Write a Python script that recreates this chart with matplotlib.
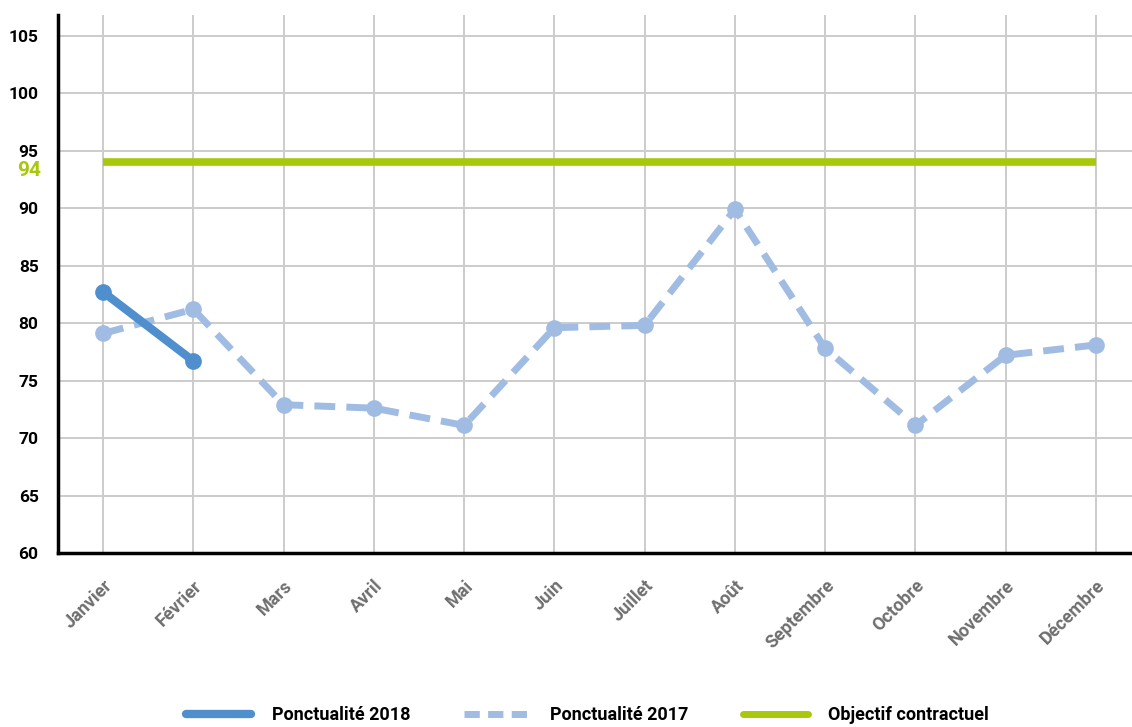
import matplotlib
matplotlib.use("Agg")
import matplotlib.pyplot as plt
from matplotlib.lines import Line2D

months = [
    "Janvier", "Février", "Mars", "Avril", "Mai", "Juin",
    "Juillet", "Août", "Septembre", "Octobre", "Novembre", "Décembre",
]
ponctualite_2018 = [82.7, 76.7]
ponctualite_2017 = [79.1, 81.2, 72.9, 72.6, 71.1, 79.6, 79.8, 89.9, 77.8, 71.1, 77.2, 78.1]
objectif = 94
y_ticks = [60, 65, 70, 75, 80, 85, 90, 95, 100, 105]

BLUE_2018 = "#4F8FCD"
BLUE_2017 = "#A0BCE3"
GREEN = "#A8C80C"
GRID = "#CCCCCC"

plt.rcParams["font.family"] = ["Roboto", "DejaVu Sans"]

fig = plt.figure(figsize=(11.32, 7.27), dpi=100)
ax = fig.add_axes([58 / 1132, 1 - 553 / 727, 1 - 58 / 1132, (553 - 15) / 727])

x_all = list(range(len(months)))

# objectif contractuel
ax.plot(
    x_all,
    [objectif] * len(months),
    color=GREEN,
    linewidth=5.5,
    solid_capstyle="butt",
    zorder=2,
)

ax.plot(
    x_all,
    ponctualite_2017,
    color=BLUE_2017,
    linewidth=5,
    dashes=(3, 1.6),
    marker="o",
    markersize=11,
    zorder=3,
)

ax.plot(
    x_all[: len(ponctualite_2018)],
    ponctualite_2018,
    color=BLUE_2018,
    linewidth=6,
    solid_capstyle="round",
    marker="o",
    markersize=11,
    zorder=4,
)

ax.set_xlim(-0.5, 11.4)
ax.set_ylim(60, 106.8)

ax.set_yticks(y_ticks)
ax.set_yticklabels([str(v) for v in y_ticks], fontsize=12.5, fontweight="bold", color="black")

ax.set_xticks(x_all)
ax.set_xticklabels(
    months,
    rotation=45,
    ha="right",
    rotation_mode="anchor",
    fontsize=13,
    fontweight="bold",
    color="#6E6E6E",
)

ax.tick_params(axis="both", length=0)
ax.tick_params(axis="y", pad=14)
ax.tick_params(axis="x", pad=17)

ax.grid(True, color=GRID, linewidth=1.4)
ax.set_axisbelow(True)

for side in ["top", "right"]:
    ax.spines[side].set_visible(False)
for side in ["left", "bottom"]:
    ax.spines[side].set_color("black")
    ax.spines[side].set_linewidth(2.5)

ax.annotate(
    "94",
    xy=(0, objectif),
    xycoords=("axes fraction", "data"),
    xytext=(-12, -6),
    textcoords="offset points",
    ha="right",
    va="center",
    fontsize=15,
    fontweight="bold",
    color=GREEN,
    annotation_clip=False,
)

handles = [
    Line2D([0], [0], color=BLUE_2018, linewidth=6, solid_capstyle="round"),
    Line2D([0], [0], color=BLUE_2017, linewidth=5, dashes=(2.2, 1.2)),
    Line2D([0], [0], color=GREEN, linewidth=5, solid_capstyle="round"),
]
labels = ["Ponctualité 2018", "Ponctualité 2017", "Objectif contractuel"]

fig.legend(
    handles,
    labels,
    loc="center",
    bbox_to_anchor=(0.519, 0.016),
    ncol=3,
    frameon=False,
    handlelength=3.6,
    handletextpad=1.15,
    columnspacing=3.0,
    prop={"weight": "bold", "size": 13},
)

fig.savefig("out.png", dpi=100)
